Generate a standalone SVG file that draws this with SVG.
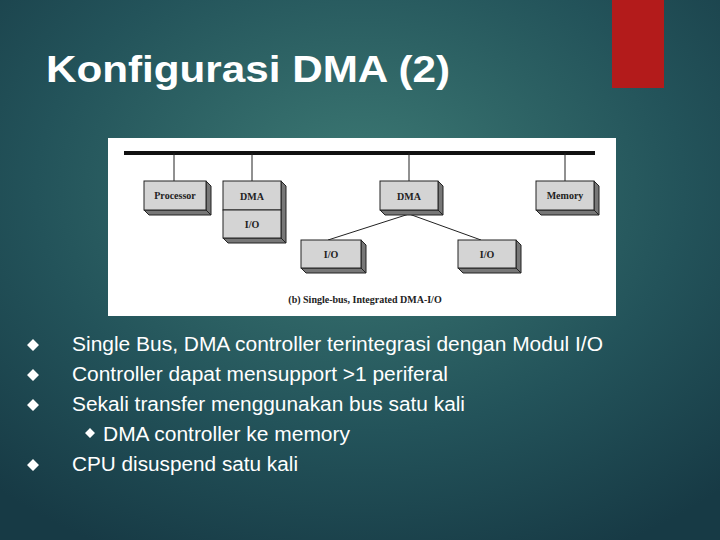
<svg xmlns="http://www.w3.org/2000/svg" width="720" height="540" viewBox="0 0 720 540">
<defs>
<radialGradient id="bg" cx="0.5" cy="0.35" r="0.75">
<stop offset="0" stop-color="#3d7a74"/><stop offset="0.6" stop-color="#23535a"/><stop offset="1" stop-color="#173a45"/>
</radialGradient>
<style>
.t{font-family:"Liberation Sans",Arial,sans-serif;fill:#fff}
.b{font-family:"Liberation Serif",serif;font-size:10px;font-weight:bold;fill:#222;text-anchor:middle}
.f{fill:#d4d4d4;stroke:#222;stroke-width:1}
.s{fill:#777;stroke:#222;stroke-width:1}
.l{stroke:#222;stroke-width:1}
.d{fill:#fff}
</style>
</defs>
<rect width="720" height="540" fill="url(#bg)"/>
<rect x="612" y="0" width="52" height="88" fill="#b31b1b"/>
<text class="t" x="46" y="82" font-size="37" font-weight="bold" textLength="404" lengthAdjust="spacingAndGlyphs">Konfigurasi DMA (2)</text>
<rect x="108" y="138" width="508" height="178" fill="#fff"/>
<g id="connectors">
<line x1="124" y1="153" x2="595" y2="153" stroke="#111" stroke-width="4"/>
<line class="l" x1="174" y1="153" x2="174" y2="181"/>
<line class="l" x1="252" y1="153" x2="252" y2="181"/>
<line class="l" x1="409" y1="153" x2="409" y2="181"/>
<line class="l" x1="565" y1="153" x2="565" y2="181"/>
<polyline class="l" fill="none" points="328,240 409,214 481,240"/>
</g>
<g id="processor"><polygon class="s" points="206,181 211,186 211,215 206,210"/><polygon class="s" points="144,210 206,210 211,215 149,215"/><rect class="f" x="144" y="181" width="62" height="29"/><text class="b" x="175" y="199">Processor</text></g>
<g id="dma-io"><polygon class="s" points="281,181 286,186 286,243 281,238"/><polygon class="s" points="223,238 281,238 286,243 228,243"/><rect class="f" x="223" y="181" width="58" height="29"/><rect class="f" x="223" y="210" width="58" height="28"/><text class="b" x="252" y="200">DMA</text><text class="b" x="252" y="228">I/O</text></g>
<g id="dma"><polygon class="s" points="438,181 443,186 443,215 438,210"/><polygon class="s" points="380,210 438,210 443,215 385,215"/><rect class="f" x="380" y="181" width="58" height="29"/><text class="b" x="409" y="200">DMA</text></g>
<g id="memory"><polygon class="s" points="594,181 599,186 599,215 594,210"/><polygon class="s" points="536,210 594,210 599,215 541,215"/><rect class="f" x="536" y="181" width="58" height="29"/><text class="b" x="565" y="199">Memory</text></g>
<g id="io1"><polygon class="s" points="361,240 366,245 366,273 361,268"/><polygon class="s" points="301,268 361,268 366,273 306,273"/><rect class="f" x="301" y="240" width="60" height="28"/><text class="b" x="331" y="258">I/O</text></g>
<g id="io2"><polygon class="s" points="516,240 521,245 521,273 516,268"/><polygon class="s" points="458,268 516,268 521,273 463,273"/><rect class="f" x="458" y="240" width="58" height="28"/><text class="b" x="487" y="258">I/O</text></g>
<text class="b" x="365" y="303" font-weight="normal" font-size="11">(b) Single-bus, Integrated DMA-I/O</text>
<g id="bullets">
<path class="d" d="M33,339 l6,6 l-6,6 l-6,-6z M33,369 l6,6 l-6,6 l-6,-6z M33,399 l6,6 l-6,6 l-6,-6z M33,459 l6,6 l-6,6 l-6,-6z M90,428 l5,5 l-5,5 l-5,-5z"/>
<text class="t" font-size="19.5" x="72" y="351" textLength="531" lengthAdjust="spacingAndGlyphs">Single Bus, DMA controller terintegrasi dengan Modul I/O</text>
<text class="t" font-size="19.5" x="72" y="381" textLength="376" lengthAdjust="spacingAndGlyphs">Controller dapat mensupport &gt;1 periferal</text>
<text class="t" font-size="19.5" x="72" y="411" textLength="393" lengthAdjust="spacingAndGlyphs">Sekali transfer menggunakan bus satu kali</text>
<text class="t" font-size="19.5" x="103" y="441" textLength="247" lengthAdjust="spacingAndGlyphs">DMA controller ke memory</text>
<text class="t" font-size="19.5" x="72" y="471" textLength="226" lengthAdjust="spacingAndGlyphs">CPU disuspend satu kali</text>
</g>
</svg>
